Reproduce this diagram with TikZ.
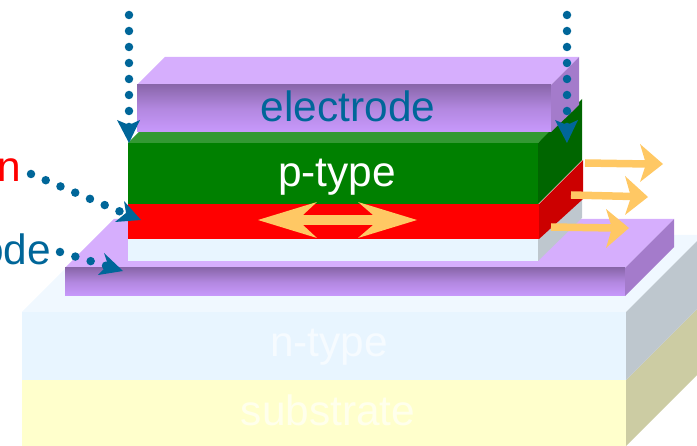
\documentclass[tikz,border=0pt]{standalone}
\usepackage{fontspec}
\setmainfont{Liberation Sans}
\definecolor{blueink}{HTML}{006699}
\definecolor{orangeink}{HTML}{FFC864}
\definecolor{purptop}{HTML}{D6AEFD}
\definecolor{purpside}{HTML}{A47BCB}
\definecolor{purpdark}{HTML}{8A67AB}
\definecolor{purplite}{HTML}{C899FC}
\definecolor{ntop}{HTML}{F0F8FF}
\definecolor{nfront}{HTML}{E8F5FF}
\definecolor{nside}{HTML}{BEC7CE}
\definecolor{subfront}{HTML}{FFFFCC}
\definecolor{subside}{HTML}{CCCCA3}
\definecolor{grtop}{HTML}{339933}
\definecolor{grfront}{HTML}{008000}
\definecolor{grside}{HTML}{006600}
\definecolor{redside}{HTML}{CC0000}
\definecolor{ntext}{HTML}{F6FBFF}
\definecolor{subtext}{HTML}{FFFFEC}
\tikzset{
  face/.style={fill=#1,draw=none},
  purpfront/.style={draw=none,top color=purpdark,bottom color=purplite,middle color=purpdark!35!purplite},
  label/.style={font=\fontsize{42.4}{42.4}\selectfont,inner sep=0pt,anchor=base},
  sidelabel/.style={font=\fontsize{42.4}{42.4}\selectfont,inner sep=0pt,anchor=base east},
  dots/.style={blueink,line width=8.5pt,line cap=round,dash pattern=on 0pt off 16pt},
  bluehead/.style={fill=blueink,draw=none},
  glow/.style={orangeink,line width=7.5pt},
  glowhead/.style={fill=orangeink,draw=none},
}
\begin{document}
\begin{tikzpicture}[x=1pt,y=-1pt]
\useasboundingbox (0,0) rectangle (697,446);
\clip (0,0) rectangle (697,446);
% substrate
\fill[face=subfront] (22,380) rectangle (626,446);
\fill[face=subside] (626,380) -- (703,303) -- (703,369) -- (626,446) -- cycle;
% n-type
\fill[face=ntop] (22,312) -- (99,235) -- (703,235) -- (626,312) -- cycle;
\fill[face=nfront] (22,312) rectangle (626,380);
\fill[face=nside] (626,312) -- (703,235) -- (703,303) -- (626,380) -- cycle;
% lower electrode
\fill[face=purptop] (65,268) -- (114,219) -- (674,219) -- (625,268) -- cycle;
\shade[purpfront] (65,268) rectangle (625,296);
\fill[face=purpside] (625,268) -- (674,219) -- (674,247) -- (625,296) -- cycle;
% pale layer
\fill[face=nfront] (128,239) rectangle (538,261);
\fill[face=nside] (538,239) -- (582,199) -- (582,218) -- (538,261) -- cycle;
% red layer
\fill[face=red] (128,204) rectangle (539,239);
\fill[face=redside] (539,204) -- (583,160) -- (583,199) -- (539,239) -- cycle;
% green layer
\fill[face=grtop] (128,143) -- (139,132) -- (551,132) -- (538,143) -- cycle;
\fill[face=grfront] (128,143) rectangle (538,204);
\fill[face=grside] (538,143) -- (582,99) -- (582,160) -- (538,204) -- cycle;
% top electrode
\fill[face=purptop] (137,85) -- (165,57) -- (579,57) -- (551,85) -- cycle;
\shade[purpfront] (137,85) rectangle (551,132);
\fill[face=purpside] (551,85) -- (579,57) -- (579,105) -- (551,132) -- cycle;
% labels
\node[label,text=blueink] (lblel) at (348,122) {electrode};
\node[label,text=white] (lblp) at (337,187) {p-type};
\node[label,text=ntext] (lbln) at (329,357) {n-type};
\node[label,text=subtext] (lblsub) at (328,426) {substrate};
\node[sidelabel,text=red] (lblrad) at (21,182) {n};
\node[sidelabel,text=blueink] (lblode) at (51,265) {ode};
% incoming (dotted) arrows
\coordinate (a1s) at (129,15); \coordinate (a1e) at (129,127.5);
\coordinate (a2s) at (567,15); \coordinate (a2e) at (567,127.5);
\coordinate (a3s) at (31,174); \coordinate (a3e) at (120,211.5);
\coordinate (a4s) at (60,252); \coordinate (a4e) at (107,266);
\draw[dots] (a1s) -- (a1e);
\draw[dots] (a2s) -- (a2e);
\draw[dots] (a3s) -- (a3e);
\draw[dots] (a4s) -- (a4e);
\fill[bluehead] (129,143) -- (117,120) -- (129,125) -- (140,120) -- cycle;
\fill[bluehead] (567,143) -- (555,120) -- (567,125) -- (578,120) -- cycle;
\fill[bluehead] (141,220) -- (124,201) -- (126,213) -- (115,222) -- cycle;
\fill[bluehead] (123,271) -- (104,253) -- (108,265) -- (98,275) -- cycle;
% emission arrows
\coordinate (e1s) at (585,163); \coordinate (e1e) at (648,164);
\coordinate (e2s) at (571,195); \coordinate (e2e) at (633,196.5);
\coordinate (e3s) at (551,227); \coordinate (e3e) at (614,228);
\draw[glow] (e1s) -- (e1e);
\draw[glow] (e2s) -- (e2e);
\draw[glow] (e3s) -- (e3e);
\fill[glowhead] (663,164) -- (640,144) -- (646,164) -- (640,182) -- cycle;
\fill[glowhead] (648,197) -- (625,176) -- (631,197) -- (625,215) -- cycle;
\fill[glowhead] (629,228) -- (606,209) -- (612,228) -- (606,248) -- cycle;
% double arrow in the red layer
\coordinate (d1) at (300,220); \coordinate (d2) at (376,220);
\draw[orangeink,line width=10pt] (d1) -- (d2);
\fill[glowhead] (258,220) -- (317,202) -- (303,215) -- (303,225) -- (317,238) -- cycle;
\fill[glowhead] (417,220) -- (358,202) -- (373,215) -- (373,225) -- (358,238) -- cycle;
\end{tikzpicture}
\end{document}
